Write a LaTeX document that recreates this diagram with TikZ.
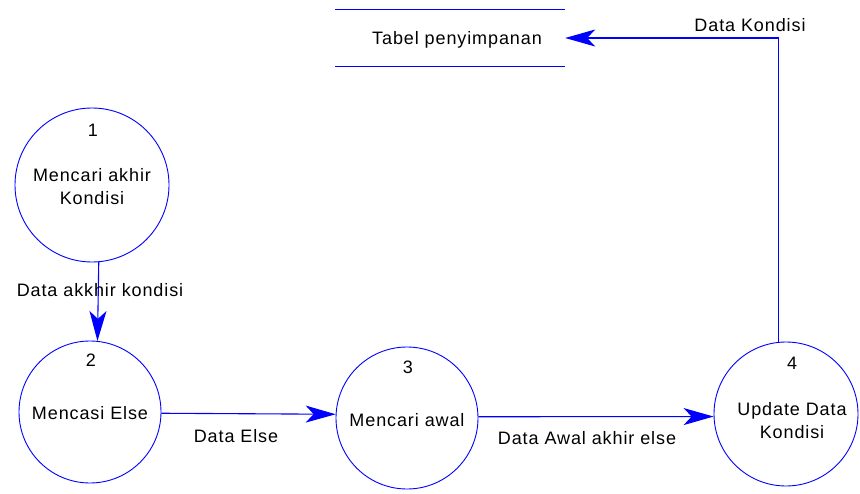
\documentclass[tikz,border=0pt]{standalone}
\usepackage{fontspec}
\setmainfont{Liberation Sans}[LetterSpace=5]
\usetikzlibrary{arrows.meta}
\definecolor{dfdblue}{RGB}{0,0,255}
\begin{document}
\begin{tikzpicture}[x=1pt,y=-1pt,
  proc/.style={circle,draw=dfdblue,line width=0.9pt,inner sep=0pt},
  txt/.style={inner sep=0pt,align=center,font=\fontsize{18}{23}\selectfont},
  flow/.style={draw=dfdblue,line width=1.1pt,
    -{Stealth[length=30pt,width=17pt,inset=8pt]}}]
\useasboundingbox (0,0) rectangle (860,493);

% processes
\node[proc,minimum size=154pt] (c1) at (92,185) {};
\node[proc,minimum size=142pt] (c2) at (90,412) {};
\node[proc,minimum size=142pt] (c3) at (407,418) {};
\node[proc,minimum size=144pt] (c4) at (786,414) {};

\node[txt] (n1) at (93,130) {1};
\node[txt] (t1) at (92,187) {Mencari akhir\\Kondisi};
\node[txt] (n2) at (91,360) {2};
\node[txt] (t2) at (90,413) {Mencasi Else};
\node[txt] (n3) at (408,367) {3};
\node[txt] (t3) at (407,420) {Mencari awal};
\node[txt] (n4) at (792,363) {4};
\node[txt] (t4) at (792,421) {Update Data\\Kondisi};

% data store
\node[txt,minimum width=230pt,minimum height=56pt] (store) at (450,38) {};
\node[txt] (st) at (457,40) {Tabel penyimpanan};
\draw[dfdblue,line width=0.9pt] (store.north west) -- (store.north east);
\draw[dfdblue,line width=0.9pt] (store.south west) -- (store.south east);

% data flows
\draw[flow] (c1.-85) -- (c2.84);
\draw[flow] (c2.-1.6) -- (c3.177);
\draw[flow] (c3.1.5) -- (c4.182);
\draw[flow] (c4.96.5) |- (store.east);

% flow labels
\node[txt] (l1) at (100,290) {Data akkhir kondisi};
\node[txt] (l2) at (236,436) {Data Else};
\node[txt] (l3) at (587,438) {Data Awal akhir else};
\node[txt] (l4) at (750,25) {Data Kondisi};
\end{tikzpicture}
\end{document}
